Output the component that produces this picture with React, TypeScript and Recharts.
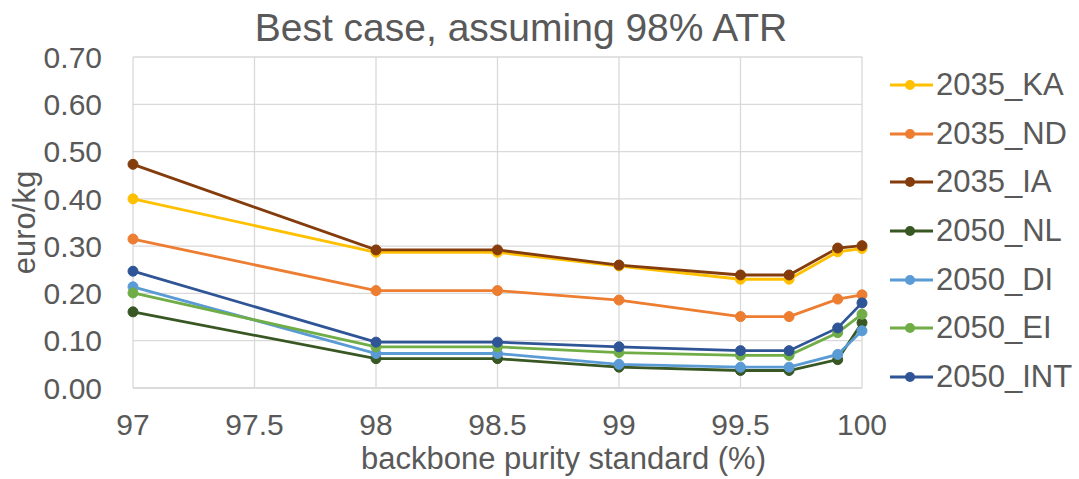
import React from "react";
import { LineChart, Line, XAxis, YAxis, CartesianGrid, Label } from "recharts";

// x positions (backbone purity standard, %)
const purity = [97, 98, 98.5, 99, 99.5, 99.7, 99.9, 100];

// euro/kg per scenario
const ka2035 = [0.4, 0.287, 0.287, 0.258, 0.23, 0.23, 0.288, 0.295];
const nd2035 = [0.315, 0.206, 0.206, 0.186, 0.151, 0.151, 0.188, 0.197];
const ia2035 = [0.473, 0.292, 0.292, 0.26, 0.239, 0.239, 0.296, 0.301];
const nl2050 = [0.161, 0.062, 0.062, 0.044, 0.037, 0.037, 0.06, 0.138];
const di2050 = [0.214, 0.073, 0.073, 0.05, 0.044, 0.044, 0.071, 0.121];
const ei2050 = [0.201, 0.087, 0.087, 0.075, 0.069, 0.069, 0.117, 0.156];
const int2050 = [0.247, 0.097, 0.097, 0.087, 0.079, 0.079, 0.127, 0.18];

const xTicks = [97, 97.5, 98, 98.5, 99, 99.5, 100];
const yTicks = [0, 0.1, 0.2, 0.3, 0.4, 0.5, 0.6, 0.7];

const series = [
  { key: "2035_KA", values: ka2035, color: "#FFC000" },
  { key: "2035_ND", values: nd2035, color: "#ED7D31" },
  { key: "2035_IA", values: ia2035, color: "#843C0C" },
  { key: "2050_NL", values: nl2050, color: "#385723" },
  { key: "2050_DI", values: di2050, color: "#5B9BD5" },
  { key: "2050_EI", values: ei2050, color: "#70AD47" },
  { key: "2050_INT", values: int2050, color: "#2F5597" },
];

const rows = purity.map((x, i) => {
  const row: Record<string, number> = { x };
  series.forEach((s) => {
    row[s.key] = s.values[i];
  });
  return row;
});

const FONT = "'Liberation Sans', Arial, sans-serif";
const TEXT = "#595959";
const GRID = "#D9D9D9";

export default function App() {
  return (
    <div style={{ position: "absolute", left: 0, top: 0, width: 1079, height: 479, background: "#fff", fontFamily: FONT }}>
      {/* title */}
      <div
        style={{
          position: "absolute", left: 0, top: 8, width: 1042, textAlign: "center",
          fontSize: 39, lineHeight: "39px", color: TEXT,
        }}
      >
        Best case, assuming 98% ATR
      </div>

      <LineChart width={1079} height={479} data={rows} margin={{ top: 57, right: 217, bottom: 31, left: 0 }}>
        <CartesianGrid stroke={GRID} strokeWidth={1.3} />
        <XAxis
          dataKey="x"
          type="number"
          domain={[97, 100]}
          ticks={xTicks}
          height={60}
          axisLine={{ stroke: GRID, strokeWidth: 1.3 }}
          tickLine={false}
          tickMargin={20}
          tick={{ fontSize: 30, fill: TEXT, fontFamily: FONT }}
        >
          <Label
            content={({ viewBox }: any) => (
              <text
                x={viewBox.x + viewBox.width / 2 + 66}
                y={viewBox.y + 81}
                textAnchor="middle"
                fontSize={31}
                fill={TEXT}
                fontFamily={FONT}
              >
                backbone purity standard (%)
              </text>
            )}
          />
        </XAxis>
        <YAxis
          type="number"
          domain={[0, 0.7]}
          ticks={yTicks}
          width={133}
          axisLine={false}
          tickLine={false}
          tickMargin={25}
          tickFormatter={(v: number) => v.toFixed(2)}
          tick={{ fontSize: 30, fill: TEXT, fontFamily: FONT }}
        >
          <Label
            content={({ viewBox }: any) => {
              const cx = 35;
              const cy = viewBox.y + viewBox.height / 2;
              return (
                <text
                  x={cx}
                  y={cy}
                  transform={`rotate(-90 ${cx} ${cy})`}
                  textAnchor="middle"
                  fontSize={31}
                  fill={TEXT}
                  fontFamily={FONT}
                >
                  euro/kg
                </text>
              );
            }}
          />
        </YAxis>
        {series.map((s) => (
          <Line
            key={s.key}
            dataKey={s.key}
            type="linear"
            stroke={s.color}
            strokeWidth={2.8}
            dot={{ r: 5, fill: s.color, stroke: s.color, strokeWidth: 1 }}
            isAnimationActive={false}
          />
        ))}
      </LineChart>

      {/* legend */}
      <div style={{ position: "absolute", left: 890, top: 61 }}>
        {series.map((s) => (
          <div key={s.key} style={{ display: "flex", alignItems: "center", height: 48.6 }}>
            <svg width={44} height={12} style={{ display: "block" }}>
              <line x1={0} y1={6} x2={43} y2={6} stroke={s.color} strokeWidth={2.8} />
              <circle cx={20} cy={6} r={5} fill={s.color} />
            </svg>
            <span style={{ fontSize: 31, color: TEXT, marginLeft: 2, lineHeight: "48px" }}>{s.key}</span>
          </div>
        ))}
      </div>
    </div>
  );
}
